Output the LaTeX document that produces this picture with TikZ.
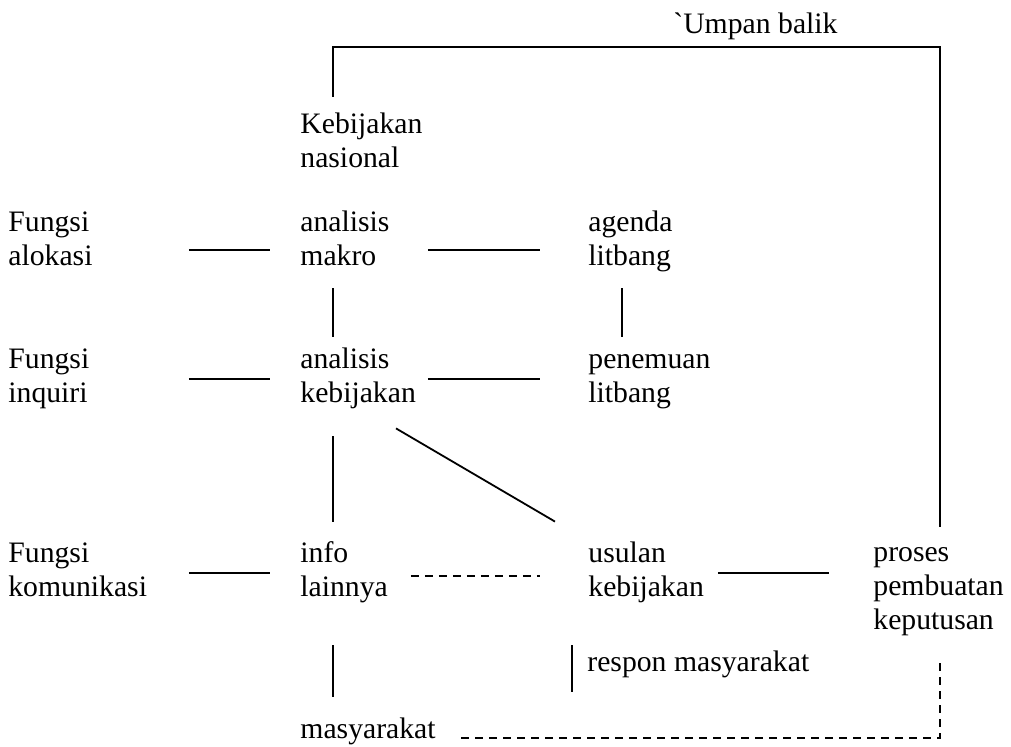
\documentclass[tikz,border=0pt]{standalone}
\usepackage{fontspec}
\setmainfont{Liberation Serif}
\begin{document}
\begin{tikzpicture}[x=0.5pt,y=-0.5pt,
    txt/.style={inner sep=0, anchor=west, align=left,
      font=\fontsize{14.85}{17}\selectfont,
      execute at begin node=\strut, execute at end node=\strut},
    colA/.style={txt, text width=90pt},
    colB/.style={txt, text width=63.5pt},
    colC/.style={txt, text width=64.5pt},
    link/.style={line width=0.9pt},
    dlink/.style={link, dash pattern=on 4pt off 3pt}]
    \useasboundingbox (0,0) rectangle (1011,747);

    % Place the texts
    \node[txt] (umpan) at (673,27) {\textasciigrave Umpan balik};
    \node[colB] (kebnas) at (300,144) {Kebijakan\\nasional};
    \node[colA] (fal) at (8,242) {Fungsi\\alokasi};
    \node[colB] (amak) at (300,242) {analisis\\makro};
    \node[colC] (agd) at (588,242) {agenda\\litbang};
    \node[colA] (finq) at (8,379) {Fungsi\\inquiri};
    \node[colB] (akeb) at (300,379) {analisis\\kebijakan};
    \node[colC] (pnm) at (588,379) {penemuan\\litbang};
    \node[colA] (fkom) at (8,573) {Fungsi\\komunikasi};
    \node[colB] (info) at (300,573) {info\\lainnya};
    \node[colC] (usul) at (588,573) {usulan\\kebijakan};
    \node[txt] (proses) at (873,594) {proses\\pembuatan\\keputusan};
    \node[txt] (respon) at (587,665) {respon masyarakat};
    \node[txt] (masy) at (300,732) {masyarakat};

    % Feedback loop over the top
    \draw[link] ([xshift=16.5pt,yshift=6.5pt]kebnas.north west)
      |- ([yshift=-1.5pt]umpan.south) -| ([xshift=33.5pt,yshift=10.5pt]proses.north west);

    % Horizontal links
    \draw[link, shorten >=15pt] ([yshift=-4pt]fal.east) -- ([yshift=-4pt]amak.west);
    \draw[link, shorten >=24pt] ([yshift=-4pt]amak.east) -- ([yshift=-4pt]agd.west);
    \draw[link, shorten >=15pt] (finq.east) -- (akeb.west);
    \draw[link, shorten >=24pt] (akeb.east) -- (pnm.west);
    \draw[link, shorten >=15pt] (fkom.east) -- (info.west);
    \draw[dlink, shorten <=-8.5pt, shorten >=24pt] ([yshift=-1.5pt]info.east) -- ([yshift=-1.5pt]usul.west);
    \draw[link, shorten >=22pt] (usul.east) -- (usul.east -| proses.west);

    % Vertical and slanted links
    \draw[link, shorten <=6pt, shorten >=4pt] ([xshift=16.5pt]amak.south west) -- ([xshift=16.5pt]akeb.north west);
    \draw[link, shorten <=6pt, shorten >=4pt] ([xshift=17pt]agd.south west) -- ([xshift=17pt]pnm.north west);
    \draw[link, shorten <=11.5pt, shorten >=8.5pt] ([xshift=16.5pt]akeb.south west) -- ([xshift=16.5pt]info.north west);
    \draw[link] ([xshift=48pt,yshift=-7.5pt]akeb.south west) -- ([xshift=-16.5pt,yshift=8.5pt]usul.north west);
    \draw[link, shorten <=19pt, shorten >=9pt] ([xshift=16.5pt]info.south west) -- ([xshift=16.5pt]masy.north west);
    \draw[link] ([xshift=-7.5pt,yshift=10pt]respon.west) -- ([xshift=-7.5pt,yshift=-13.5pt]respon.west);

    % Dashed return from the public
    \draw[dlink] ([xshift=12.5pt,yshift=-3pt]masy.east) -| ([xshift=33.5pt,yshift=-10pt]proses.south west);
\end{tikzpicture}
\end{document}
